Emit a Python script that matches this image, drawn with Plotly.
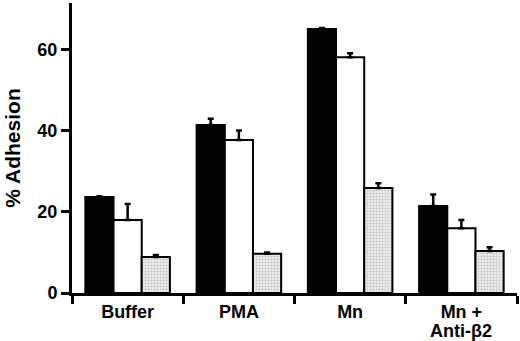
import plotly.graph_objects as go

categories = ["Buffer", "PMA", "Mn", "Mn + Anti-β2"]
tick_labels = ["Buffer", "PMA", "Mn", "Mn +"]
second_line = "Anti-β2"
black_vals = [23.7, 41.5, 65.2, 21.5]
black_err = [0.2, 1.5, 0.2, 2.8]
white_vals = [18.0, 37.8, 58.2, 16.0]
white_err = [4.0, 2.3, 1.0, 2.0]
gray_vals = [8.9, 9.7, 25.9, 10.4]
gray_err = [0.5, 0.3, 1.2, 0.9]

y_ticks = [0, 20, 40, 60]

def err(a):
    return dict(type="data", array=a, arrayminus=[0]*len(a), symmetric=False,
                color="black", thickness=2.5, width=3)

fig = go.Figure()
fig.add_bar(x=categories, y=black_vals, error_y=err(black_err),
            marker=dict(color="black", line=dict(color="black", width=2)))
fig.add_bar(x=categories, y=white_vals, error_y=err(white_err),
            marker=dict(color="white", line=dict(color="black", width=2)))
fig.add_bar(x=categories, y=gray_vals, error_y=err(gray_err),
            marker=dict(color="#d9d9d9", line=dict(color="black", width=2),
                        pattern=dict(shape=".", fgcolor="#9a9a9a", bgcolor="#ececec",
                                     size=3, solidity=0.35)))

fam = "Liberation Sans, Arial, sans-serif"
fig.update_layout(
    width=520, height=341,
    margin=dict(l=72, r=3, t=3, b=48),
    paper_bgcolor="white", plot_bgcolor="white",
    barmode="group", bargap=0.24, bargroupgap=0,
    showlegend=False,
    font=dict(family=fam, size=18, color="black"),
    xaxis=dict(showline=True, linecolor="black", linewidth=3, automargin=False,
               ticks="outside", tickson="boundaries", ticklen=8, tickwidth=2.5,
               tickcolor="black", tickvals=categories,
               ticktext=[f"<b>{c}</b>" for c in tick_labels],
               showgrid=False, zeroline=False),
    yaxis=dict(range=[0, 71.6], showline=True, linecolor="black", linewidth=3,
               automargin=False,
               ticks="outside", ticklen=8, tickwidth=2.5, tickcolor="black",
               tickvals=y_ticks, ticktext=[f"<b>{t}</b>" for t in y_ticks],
               showgrid=False, zeroline=False,
               title=dict(text="<b>% Adhesion</b>", font=dict(size=21), standoff=12)),
)
fig.add_annotation(x=categories[3], y=0, xref="x", yref="paper", yanchor="top",
                   yshift=-26, text=f"<b>{second_line}</b>", showarrow=False,
                   font=dict(size=18, family=fam, color="black"))
fig.write_html("out.html", config={"displayModeBar": False},
               post_script="document.body.style.margin='0';")
